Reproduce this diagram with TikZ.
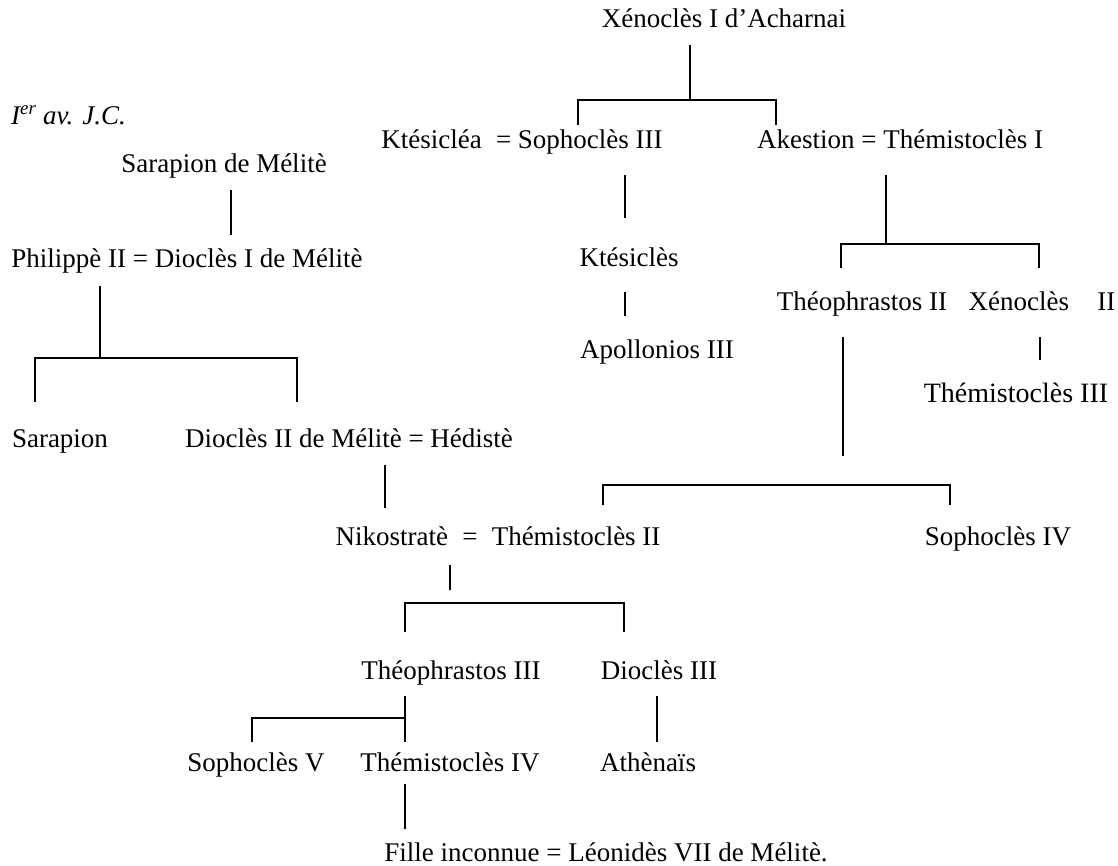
\documentclass[tikz,border=0pt]{standalone}
\usepackage{fontspec}
\setmainfont{Liberation Serif}
\usepackage{tikz}

\tikzset{person/.style={inner sep=0pt, anchor=base},
	kin/.style={line width=1.1pt}}

\begin{document}
\begin{tikzpicture}[x=1pt, y=-1pt, font=\fontsize{27}{31}\selectfont]
	
	\useasboundingbox (0, 0) rectangle (1118, 865);
	
	\node[person] (xen1) at (724, 27)   {Xénoclès I d’Acharnai};
	\node[person, anchor=base west] (date) at (11, 124)   {\textit{I\textsuperscript{er} av. J.C.}};
	
	
	\node[person] (soph3) at (522, 148)   {Ktésicléa \;= Sophoclès III};
	\node[person] (them1) at (900, 148)   {Akestion = Thémistoclès I};
	\node[person] (sara1) at (224, 172)   {Sarapion de Mélitè};
	
	
	\node[person] (diocl1) at (187, 267)   {Philippè II = Dioclès I de Mélitè};
	\node[person] (ktes) at (629, 266)   {Ktésiclès};
	\node[person] (theo2) at (862, 310)   {Théophrastos II};
	\node[person] (xen2) at (1042, 310)   {Xénoclès \;\; II};
	\node[person] (apol3) at (657, 358)   {Apollonios III};
	\node[person, font=\fontsize{28}{32}\selectfont] (them3) at (1016, 402)   {Thémistoclès III};
	
	
	\node[person] (sara2) at (60, 447)   {Sarapion};
	\node[person] (diocl2) at (349, 447)   {Dioclès II de Mélitè = Hédistè};
	\node[person] (them2) at (498, 545)   {Nikostratè \;= \;Thémistoclès II};
	\node[person] (soph4) at (998, 545)   {Sophoclès IV};
	
	
	\node[person] (theo3) at (451, 679)   {Théophrastos III};
	\node[person] (diocl3) at (659, 679)   {Dioclès III};
	\node[person] (soph5) at (256, 771)   {Sophoclès V};
	\node[person] (them4) at (450, 771)   {Thémistoclès IV};
	\node[person] (athe) at (648, 771)   {Athènaïs};
	\node[person] (leon7) at (606, 861)   {Fille inconnue = Léonidès VII de Mélitè.};
	
	
	% bracket corners and line ends
	\coordinate (xen1a) at (690, 45);
	\coordinate (xen1b) at (690, 100);
	\coordinate (b1l) at (578, 100);
	\coordinate (b1r) at (776, 100);
	\coordinate (soph3a) at (578, 125);
	\coordinate (them1a) at (776, 125);
	
	\coordinate (sara1b) at (231, 190);
	\coordinate (diocl1a) at (231, 235);
	\coordinate (diocl1b) at (100, 286);
	\coordinate (diocl1c) at (100, 358);
	\coordinate (b2l) at (35, 358);
	\coordinate (b2r) at (297, 358);
	\coordinate (sara2a) at (35, 402);
	\coordinate (diocl2a) at (297, 402);
	\coordinate (diocl2b) at (385, 465);
	\coordinate (them2a) at (385, 508);
	
	\coordinate (soph3b) at (625, 175);
	\coordinate (ktesa) at (625, 218);
	\coordinate (ktesb) at (625, 292);
	\coordinate (apol3a) at (625, 316);
	
	\coordinate (them1b) at (886, 175);
	\coordinate (them1c) at (886, 244);
	\coordinate (b3l) at (841, 244);
	\coordinate (b3r) at (1039, 244);
	\coordinate (theo2a) at (841, 268);
	\coordinate (xen2a) at (1039, 268);
	\coordinate (xen2b) at (1040, 337);
	\coordinate (them3a) at (1040, 360);
	\coordinate (theo2b) at (843, 337);
	\coordinate (theo2c) at (843, 456);
	\coordinate (b4l) at (603, 485);
	\coordinate (b4r) at (950, 485);
	\coordinate (them2c) at (603, 505);
	\coordinate (soph4a) at (950, 505);
	
	\coordinate (them2b) at (450, 565);
	\coordinate (them2d) at (450, 590);
	\coordinate (b5l) at (405, 603);
	\coordinate (b5r) at (624, 603);
	\coordinate (theo3a) at (405, 632);
	\coordinate (diocl3a) at (624, 632);
	
	\coordinate (theo3b) at (405, 696);
	\coordinate (theo3c) at (405, 718);
	\coordinate (b6l) at (252, 718);
	\coordinate (soph5a) at (252, 742);
	\coordinate (them4a) at (405, 742);
	\coordinate (diocl3b) at (657, 696);
	\coordinate (athea) at (657, 742);
	\coordinate (them4b) at (405, 784);
	\coordinate (leon7a) at (405, 829);
	
	
	\path[kin] (xen1a) edge (xen1b);
	\draw[kin] (soph3a) -- (b1l) -- (b1r) -- (them1a);
	
	\path[kin] (sara1b) edge (diocl1a);
	\path[kin] (diocl1b) edge (diocl1c);
	\draw[kin] (sara2a) -- (b2l) -- (b2r) -- (diocl2a);
	\path[kin] (diocl2b) edge (them2a);
	
	\path[kin] (soph3b) edge (ktesa);
	\path[kin] (ktesb) edge (apol3a);
	
	\path[kin] (them1b) edge (them1c);
	\draw[kin] (theo2a) -- (b3l) -- (b3r) -- (xen2a);
	\path[kin] (xen2b) edge (them3a);
	\path[kin] (theo2b) edge (theo2c);
	\draw[kin] (them2c) -- (b4l) -- (b4r) -- (soph4a);
	
	\path[kin] (them2b) edge (them2d);
	\draw[kin] (theo3a) -- (b5l) -- (b5r) -- (diocl3a);
	\path[kin] (theo3b) edge (them4a);
	\draw[kin] (soph5a) -- (b6l) -- (theo3c);
	\path[kin] (diocl3b) edge (athea);
	\path[kin] (them4b) edge (leon7a);

	
\end{tikzpicture}
\end{document}
